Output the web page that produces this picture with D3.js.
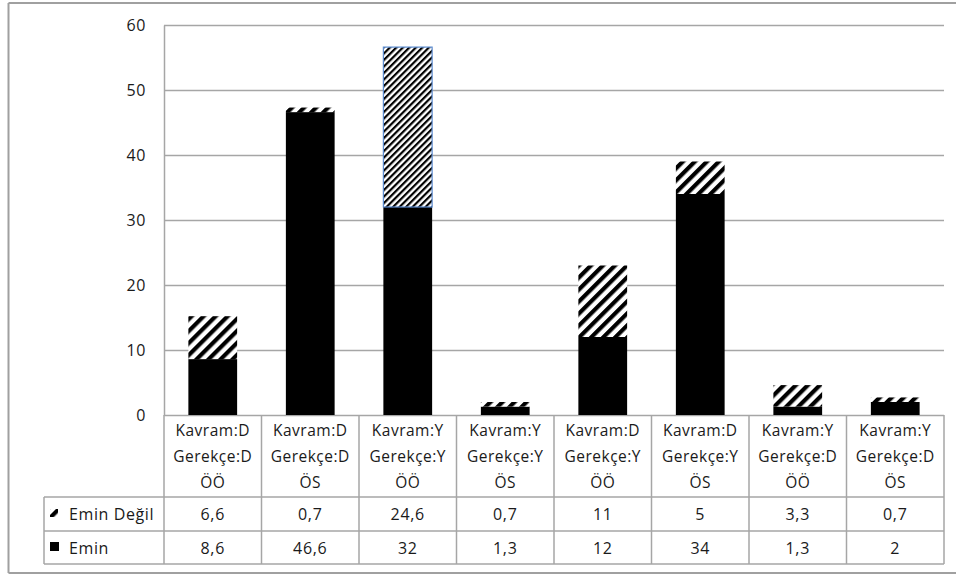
<!DOCTYPE html>
<html>
<head>
<meta charset="utf-8">
<script src="https://cdn.jsdelivr.net/npm/d3@7"></script>
<style>
  html, body { margin: 0; padding: 0; background: #fff; }
  svg { display: block; }
  text { font-family: "Open Sans", "DejaVu Sans", sans-serif; fill: #1a1a1a; }
</style>
</head>
<body>
<svg id="chart" width="956" height="576"></svg>
<script>
// Category labels (three lines each)
const kavram   = ["Kavram:D", "Kavram:D", "Kavram:Y", "Kavram:Y", "Kavram:D", "Kavram:D", "Kavram:Y", "Kavram:Y"];
const gerekce  = ["Gerekçe:D", "Gerekçe:D", "Gerekçe:Y", "Gerekçe:Y", "Gerekçe:Y", "Gerekçe:Y", "Gerekçe:D", "Gerekçe:D"];
const grup     = ["ÖÖ", "ÖS", "ÖÖ", "ÖS", "ÖÖ", "ÖS", "ÖÖ", "ÖS"];

// Series values
const emin      = [8.6, 46.6, 32, 1.3, 12, 34, 1.3, 2];
const eminDegil = [6.6, 0.7, 24.6, 0.7, 11, 5, 3.3, 0.7];

// Value labels as printed in the data table
const eminLabels      = ["8,6", "46,6", "32", "1,3", "12", "34", "1,3", "2"];
const eminDegilLabels = ["6,6", "0,7", "24,6", "0,7", "11", "5", "3,3", "0,7"];

const seriesNames = ["Emin Değil", "Emin"];
const yTicks = [0, 10, 20, 30, 40, 50, 60];

// Point of the "Emin Değil" series shown as selected
const selectedIndex = 2;

const svg = d3.select("#chart");
const gridColor = "#a6a6a6";

const plot = { left: 164, right: 944, top: 25, bottom: 415 };
const table = { left: 44, headerBottom: 497, row1Bottom: 531, row2Bottom: 564 };

const keys = kavram.map((_, i) => i);
const x = d3.scaleBand().domain(keys).range([plot.left, plot.right]).paddingInner(0.5).paddingOuter(0.25);
const band = d3.scaleBand().domain(keys).range([plot.left, plot.right]);
const y = d3.scaleLinear().domain([0, 60]).range([plot.bottom, plot.top]);

// Hatch patterns
const defs = svg.append("defs");
function hatch(id, period, thick) {
  const p = defs.append("pattern")
    .attr("id", id)
    .attr("patternUnits", "userSpaceOnUse")
    .attr("width", period).attr("height", period)
    .attr("patternTransform", "rotate(45)");
  p.append("rect").attr("width", period).attr("height", period).attr("fill", "#fff");
  p.append("rect").attr("x", 0).attr("y", 0).attr("width", thick).attr("height", period).attr("fill", "#000");
}
hatch("hatch", 8.5, 4.2);
hatch("hatchFine", 4.6, 2.2);

// Outer frame
const frame = svg.append("g").attr("fill", "none").attr("stroke", "#a0a0a0").attr("stroke-width", 2);
frame.append("line").attr("x1", 8.5).attr("x2", 958).attr("y1", 3).attr("y2", 3);
frame.append("line").attr("x1", 8.5).attr("x2", 8.5).attr("y1", 3).attr("y2", 573);
frame.append("line").attr("x1", 8.5).attr("x2", 958).attr("y1", 573).attr("y2", 573);

// Gridlines
svg.append("g")
  .selectAll("line")
  .data(yTicks)
  .join("line")
  .attr("x1", plot.left).attr("x2", plot.right)
  .attr("y1", d => Math.round(y(d)) + 0.5).attr("y2", d => Math.round(y(d)) + 0.5)
  .attr("stroke", gridColor).attr("stroke-width", 1.5);

// Y axis
const yAxis = svg.append("g")
  .attr("transform", `translate(${plot.left},0)`)
  .call(d3.axisLeft(y).tickValues(yTicks).tickSize(0).tickPadding(18));
yAxis.select(".domain").attr("stroke", gridColor).attr("stroke-width", 1.5);
yAxis.selectAll("text").style("font-size", "16px").style("letter-spacing", "0.6px").attr("fill", "#1a1a1a")
  .style("font-family", "'Open Sans', sans-serif");

// Stacked bars
const stackData = keys.map(i => ({ i, emin: emin[i], eminDegil: eminDegil[i] }));
const stacked = d3.stack().keys(["emin", "eminDegil"])(stackData);

svg.append("g")
  .selectAll("rect")
  .data(stacked[0])
  .join("rect")
  .attr("x", d => x(d.data.i))
  .attr("width", x.bandwidth())
  .attr("y", d => y(d[1]))
  .attr("height", d => y(d[0]) - y(d[1]))
  .attr("fill", "#000");

svg.append("g")
  .selectAll("rect")
  .data(stacked[1])
  .join("rect")
  .attr("x", d => x(d.data.i))
  .attr("width", x.bandwidth())
  .attr("y", d => y(d[1]))
  .attr("height", d => y(d[0]) - y(d[1]))
  .attr("fill", d => d.data.i === selectedIndex ? "url(#hatchFine)" : "url(#hatch)");

// Selection outline
const sel = stacked[1][selectedIndex];
svg.append("rect")
  .attr("x", x(selectedIndex))
  .attr("width", x.bandwidth())
  .attr("y", y(sel[1]))
  .attr("height", y(sel[0]) - y(sel[1]))
  .attr("fill", "none")
  .attr("stroke", "#5b8bd0")
  .attr("stroke-width", 1.2);

// Data table
const tbl = svg.append("g").attr("stroke", gridColor).attr("stroke-width", 1.5).attr("fill", "none");
// horizontal rules
tbl.append("line").attr("x1", table.left).attr("x2", plot.right).attr("y1", table.headerBottom).attr("y2", table.headerBottom);
tbl.append("line").attr("x1", table.left).attr("x2", plot.right).attr("y1", table.row1Bottom).attr("y2", table.row1Bottom);
tbl.append("line").attr("x1", table.left).attr("x2", plot.right).attr("y1", table.row2Bottom).attr("y2", table.row2Bottom);
// vertical rules
tbl.append("line").attr("x1", table.left).attr("x2", table.left).attr("y1", table.headerBottom).attr("y2", table.row2Bottom);
tbl.append("line").attr("x1", plot.left).attr("x2", plot.left).attr("y1", plot.bottom).attr("y2", table.row2Bottom);
tbl.selectAll("line.sep")
  .data(keys)
  .join("line")
  .attr("class", "sep")
  .attr("x1", d => band(d) + band.bandwidth())
  .attr("x2", d => band(d) + band.bandwidth())
  .attr("y1", plot.bottom).attr("y2", table.row2Bottom);

// Category header text
const header = svg.append("g").style("font-size", "15.5px").style("letter-spacing", "0.5px").attr("text-anchor", "middle");
const headerLines = [kavram, gerekce, grup];
const headerY = [436, 462, 488];
headerLines.forEach((arr, li) => {
  header.selectAll(`text.h${li}`)
    .data(keys)
    .join("text")
    .attr("class", `h${li}`)
    .attr("x", d => band(d) + band.bandwidth() / 2)
    .attr("y", headerY[li])
    .text(d => arr[d]);
});

// Value rows
const rows = [eminDegilLabels, eminLabels];
const rowY = [520, 554];
const vals = svg.append("g").style("font-size", "16px").style("letter-spacing", "0.7px").attr("text-anchor", "middle");
rows.forEach((arr, ri) => {
  vals.selectAll(`text.r${ri}`)
    .data(keys)
    .join("text")
    .attr("class", `r${ri}`)
    .attr("x", d => band(d) + band.bandwidth() / 2)
    .attr("y", rowY[ri])
    .text(d => arr[d]);
});

// Legend keys inside the table
const leg = svg.append("g").style("font-size", "16px").style("letter-spacing", "0.6px");
leg.append("rect").attr("x", 50).attr("y", 509).attr("width", 8).attr("height", 8).attr("fill", "url(#hatch)");
leg.append("rect").attr("x", 50).attr("y", 542).attr("width", 9).attr("height", 9).attr("fill", "#000");
leg.selectAll("text.lg")
  .data(seriesNames)
  .join("text")
  .attr("class", "lg")
  .attr("x", 69)
  .attr("y", (d, i) => rowY[i])
  .text(d => d);
</script>
</body>
</html>
